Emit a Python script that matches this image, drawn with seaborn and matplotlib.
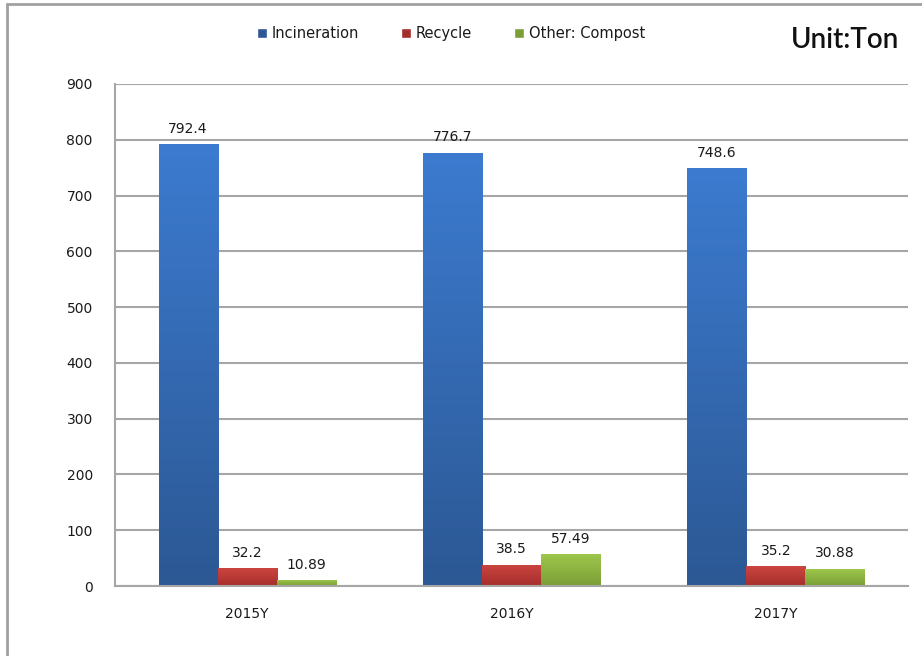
import matplotlib
matplotlib.use("Agg")
import matplotlib.pyplot as plt
import matplotlib.colors as mcolors
from matplotlib.patches import Rectangle, Patch
import numpy as np
import pandas as pd
import seaborn as sns

# data
years = ["2015Y", "2016Y", "2017Y"]
incineration = [792.4, 776.7, 748.6]
recycle = [32.2, 38.5, 35.2]
compost = [10.89, 57.49, 30.88]
series_names = ["Incineration", "Recycle", "Other: Compost"]
y_ticks = [0, 100, 200, 300, 400, 500, 600, 700, 800, 900]

# top / bottom colours of the gradient fill
colors_top = ["#3c7bd0", "#cc4540", "#9fc84c"]
colors_bottom = ["#2c5894", "#a52e2b", "#7b9e37"]

df = pd.DataFrame({
    "year": years * 3,
    "value": incineration + recycle + compost,
    "kind": [series_names[0]] * 3 + [series_names[1]] * 3 + [series_names[2]] * 3,
})

sns.set_style("white")
plt.rcParams["font.family"] = ["DejaVu Sans"]

fig = plt.figure(figsize=(9.22, 6.56), dpi=100)
ax = fig.add_axes([0.1247, 0.1067, 0.8601, 0.7653])

sns.barplot(data=df, x="year", y="value", hue="kind", hue_order=series_names,
            palette=colors_top, width=0.67, gap=0, ax=ax, legend=False,
            saturation=1, edgecolor="none")

ax.set_yticks(y_ticks)
ax.yaxis.grid(True, color="#a6a6a6", linewidth=1.5)
ax.set_axisbelow(True)
ax.set_xlabel("")
ax.set_ylabel("")
ax.tick_params(axis="y", length=0, labelsize=10, pad=16, colors="#1a1a1a")
ax.tick_params(axis="x", length=0, labelsize=10, pad=15, colors="#1a1a1a")
for s in ["top", "right"]:
    ax.spines[s].set_visible(False)
for s in ["left", "bottom"]:
    ax.spines[s].set_color("#a6a6a6")
    ax.spines[s].set_linewidth(1.5)

# gradient fill on each bar
for i, cont in enumerate(ax.containers):
    cmap = mcolors.LinearSegmentedColormap.from_list(
        "g%d" % i, [colors_bottom[i], colors_top[i]])
    for bar in cont:
        x0, y0 = bar.get_x(), bar.get_y()
        w, h = bar.get_width(), bar.get_height()
        grad = np.linspace(0, 1, 256).reshape(-1, 1)
        im = ax.imshow(grad, extent=[x0, x0 + w, y0, y0 + h], origin="lower",
                       aspect="auto", cmap=cmap, zorder=2)
        im.set_clip_path(bar)
        bar.set_alpha(0)
    ax.bar_label(cont, labels=[f"{v:g}" for v in cont.datavalues],
                 padding=6, fontsize=10, color="#1a1a1a")

ax.set_xlim(-0.5, 2.5)
ax.set_ylim(0, 900)

handles = [Patch(facecolor=c) for c in colors_bottom]
fig.legend(handles, series_names, loc="center", bbox_to_anchor=(0.489, 0.949),
           ncol=3, frameon=False, fontsize=10.5, handlelength=0.7,
           handleheight=0.7, handletextpad=0.3, columnspacing=2.9,
           labelcolor="#1a1a1a")

fig.text(0.916, 0.939, "Unit:Ton", fontsize=20, ha="center", va="center",
         color="#111111", family=["Lato", "DejaVu Sans"], fontweight="semibold")

# outer chart border
fig.patches.append(Rectangle((0.0075, -0.1), 1.1, 1.0939, transform=fig.transFigure,
                             fill=False, edgecolor="#a0a0a0", linewidth=2))

fig.savefig("out.png", dpi=100)
